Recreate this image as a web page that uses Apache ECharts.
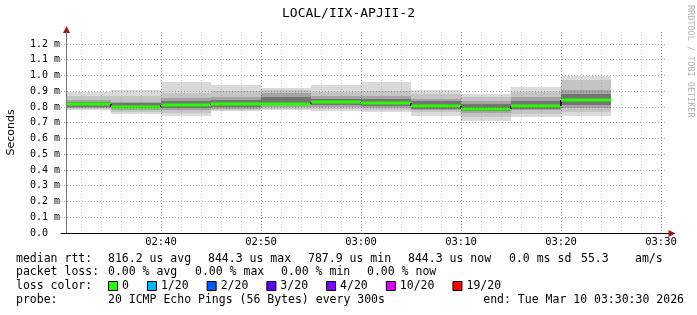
<!DOCTYPE html>
<html><head><meta charset="utf-8">
<script src="https://cdn.jsdelivr.net/npm/echarts@6/dist/echarts.min.js"></script>
<style>html,body{margin:0;padding:0;background:#fff}#c{width:697px;height:315px}</style>
</head><body><div id="c"></div>
<script>
// ---------- data ----------
const chartTitle = 'LOCAL/IIX-APJII-2';
const yAxisName = 'Seconds';
const viewStart = '02:30:30';
const viewEnd = '03:30:30';
const xTickLabels = ['02:40', '02:50', '03:00', '03:10', '03:20', '03:30'];
const yTickLabels = ['0.0', '0.1 m', '0.2 m', '0.3 m', '0.4 m', '0.5 m', '0.6 m', '0.7 m', '0.8 m', '0.9 m', '1.0 m', '1.1 m', '1.2 m'];
const segStart = ['02:30', '02:35', '02:40', '02:45', '02:50', '02:55', '03:00', '03:05', '03:10', '03:15', '03:20'];
const segMinutes = 5;
// values in ms
const medianMs = [0.816, 0.803, 0.814, 0.819, 0.820, 0.831, 0.827, 0.808, 0.7879, 0.804, 0.8443];
const outerLo  = [0.781, 0.756, 0.743, 0.772, 0.783, 0.777, 0.770, 0.745, 0.711, 0.739, 0.745];
const outerHi  = [0.895, 0.908, 0.959, 0.939, 0.920, 0.939, 0.959, 0.908, 0.883, 0.927, 0.999];
const band2Lo  = [0.787, 0.768, 0.762, 0.781, 0.790, 0.787, 0.781, 0.768, 0.737, 0.757, 0.768];
const band2Hi  = [0.870, 0.870, 0.889, 0.902, 0.908, 0.895, 0.900, 0.883, 0.863, 0.895, 0.970];
const band3Lo  = [0.793, 0.781, 0.781, 0.790, 0.800, 0.800, 0.794, 0.784, 0.762, 0.781, 0.794];
const band3Hi  = [0.845, 0.834, 0.857, 0.863, 0.891, 0.870, 0.870, 0.853, 0.838, 0.863, 0.906];
const band4Lo  = [0.800, 0.794, 0.794, 0.800, 0.810, 0.810, 0.806, 0.790, 0.775, 0.790, 0.810];
const band4Hi  = [0.830, 0.825, 0.838, 0.844, 0.863, 0.851, 0.851, 0.838, 0.819, 0.841, 0.883];

const medianStats = ['816.2 us avg', '844.3 us max', '787.9 us min', '844.3 us now', '0.0 ms sd', '55.3', 'am/s'];
const lossStats = ['0.00 % avg', '0.00 % max', '0.00 % min', '0.00 % now'];
const lossLabels = ['0', '1/20', '2/20', '3/20', '4/20', '10/20', '19/20'];
const lossColors = ['#26ff00', '#00b8ff', '#0059ff', '#5e00ff', '#7e00ff', '#dd00ff', '#ff0000'];
const probeText = '20 ICMP Echo Pings (56 Bytes) every 300s';
const endText = 'end: Tue Mar 10 03:30:30 2026';
const watermark = 'RRDTOOL / TOBI OETIKER';

// ---------- helpers ----------
function toMin(s) { const p = s.split(':').map(Number); return p[0] * 60 + p[1] + (p[2] || 0) / 60; }
function fmtMin(v) { const h = Math.floor(v / 60), m = Math.round(v - h * 60); return String(h).padStart(2, '0') + ':' + String(m).padStart(2, '0'); }

const xStart = toMin(viewStart), xEnd = toMin(viewEnd);
const axisMin = Math.floor(xStart / 10) * 10; // 150 (02:30), multiple of both intervals
const seriesData = segStart.map((s, i) => [
  Math.max(toMin(s), xStart), toMin(s) + segMinutes,
  outerLo[i], outerHi[i], band2Lo[i], band2Hi[i], band3Lo[i], band3Hi[i], band4Lo[i], band4Hi[i],
  medianMs[i], i > 0 ? medianMs[i - 1] : medianMs[i]
]);

const MONO = '"DejaVu Sans Mono", monospace';
const shades = ['#dadada', '#c4c4c4', '#a4a4a4', '#747474'];

const chart = echarts.init(document.getElementById('c'), null, { renderer: 'canvas' });

// graphic decorations (text legend etc.)
const G = [];
const textFont = '11.5px ' + MONO;
function txt(x, y, s, align, font, fill) {
  G.push({ type: 'text', x: x, y: y, silent: true, style: { text: s, font: font || textFont, fill: fill || '#000', align: align || 'left', verticalAlign: 'middle' } });
}
const rowY = [259, 272, 286, 300];
txt(16, rowY[0], 'median rtt:');
[108, 208, 308, 408, 509, 581, 635].forEach((x, i) => txt(x, rowY[0], medianStats[i]));
txt(16, rowY[1], 'packet loss:');
[108, 195, 281, 367].forEach((x, i) => txt(x, rowY[1], lossStats[i]));
txt(16, rowY[2], 'loss color:');
let bx = 108;
lossLabels.forEach((lab, i) => {
  G.push({ type: 'rect', silent: true, shape: { x: bx + 0.5, y: rowY[2] - 4.5, width: 9, height: 9 }, style: { fill: lossColors[i], stroke: '#000', lineWidth: 1 } });
  txt(bx + 14, rowY[2], lab);
  bx += 14 + lab.length * 6.93 + 18;
});
txt(16, rowY[3], 'probe:');
txt(108, rowY[3], probeText);
txt(684, rowY[3], endText, 'right');
// watermark
G.push({ type: 'text', x: 690, y: 5, rotation: -Math.PI / 2, silent: true,
  style: { text: watermark, font: '8.5px ' + MONO, fill: '#b0b0b0', align: 'left', verticalAlign: 'middle' } });
// axis arrows
G.push({ type: 'line', silent: true, shape: { x1: 666, y1: 233.5, x2: 669, y2: 233.5 }, style: { stroke: '#000', lineWidth: 1 } });
G.push({ type: 'polygon', silent: true, shape: { points: [[675.5, 233.5], [668.5, 230], [668.5, 237]] }, style: { fill: '#a01818' } });
G.push({ type: 'polygon', silent: true, shape: { points: [[66.5, 26], [63, 33], [70, 33]] }, style: { fill: '#a01818' } });

const option = {
  animation: false,
  backgroundColor: '#ffffff',
  title: { text: chartTitle, left: 'center', top: 2, textStyle: { fontFamily: MONO, fontSize: 13, fontWeight: 'normal', color: '#000' } },
  grid: { left: 61, right: 31, top: 32, bottom: 82, containLabel: false, outerBoundsMode: 'none' },
  xAxis: [
    { type: 'value', position: 'bottom', min: axisMin, max: xEnd, interval: 2,
      axisLine: { show: false }, axisTick: { show: false }, axisLabel: { show: false },
      splitLine: { show: true, showMinLine: false, showMaxLine: false, lineStyle: { color: 'rgba(140,140,140,0.42)', width: 1, type: [1, 2] } } },
    { type: 'value', position: 'bottom', min: axisMin, max: xEnd, interval: 10,
      axisLine: { show: true, onZero: false, lineStyle: { color: '#000', width: 1 } },
      axisTick: { show: false },
      axisLabel: { show: true, showMinLabel: false, showMaxLabel: false, margin: 4, fontFamily: MONO, fontSize: 10.5, color: '#000',
        formatter: v => { const s = fmtMin(v); return xTickLabels.includes(s) ? s : ''; } },
      splitLine: { show: true, showMinLine: false, showMaxLine: false, lineStyle: { color: 'rgba(150,40,40,0.45)', width: 1, type: [1, 2] } } }
  ],
  yAxis: [{
    type: 'value', min: 0, max: 1.276, interval: 0.1, offset: -5,
    name: yAxisName, nameLocation: 'middle', nameGap: 49, nameRotate: 90,
    nameTextStyle: { fontFamily: '"DejaVu Sans", sans-serif', fontSize: 11, color: '#000' },
    axisLine: { show: true, onZero: false, lineStyle: { color: '#777', width: 1 } },
    axisTick: { show: false },
    axisLabel: { show: true, showMaxLabel: false, align: 'left', margin: 36, fontFamily: MONO, fontSize: 10, color: '#000',
      formatter: v => { const i = Math.round(v * 10); return (Math.abs(v * 10 - i) < 1e-6 && yTickLabels[i] !== undefined) ? yTickLabels[i] : ''; } },
    splitLine: { show: true, showMinLine: false, showMaxLine: false, lineStyle: { color: 'rgba(150,40,40,0.45)', width: 1, type: [1, 2] } }
  }],
  series: [{
    type: 'custom', xAxisIndex: 1, yAxisIndex: 0, z: -1, clip: true,
    data: seriesData,
    renderItem: function (params, api) {
      const x0 = api.value(0), x1 = api.value(1);
      const children = [];
      for (let k = 0; k < 4; k++) {
        const lo = api.value(2 + 2 * k), hi = api.value(3 + 2 * k);
        const p0 = api.coord([x0, hi]), p1 = api.coord([x1, lo]);
        const X0 = Math.round(p0[0]), X1 = Math.round(p1[0]), Y0 = Math.round(p0[1]), Y1 = Math.round(p1[1]);
        children.push({ type: 'rect', shape: { x: X0, y: Y0, width: X1 - X0, height: Y1 - Y0 }, style: { fill: shades[k] } });
      }
      const m = api.value(10), pm = api.value(11);
      const a = api.coord([x0, m]), b = api.coord([x1, m]), pa = api.coord([x0, pm]);
      const ay = Math.round(a[1]) , pay = Math.round(pa[1]);
      if (params.dataIndex > 0 && pay !== ay) {
        children.push({ type: 'line', shape: { x1: Math.round(a[0]), y1: pay, x2: Math.round(a[0]), y2: ay }, style: { stroke: '#000', lineWidth: 2 } });
      }
      children.push({ type: 'line', shape: { x1: Math.round(a[0]), y1: ay, x2: Math.round(b[0]), y2: ay }, style: { stroke: '#26ff00', lineWidth: 3 } });
      return { type: 'group', children: children };
    }
  }],
  graphic: G
};
chart.setOption(option);
</script>
</body></html>
